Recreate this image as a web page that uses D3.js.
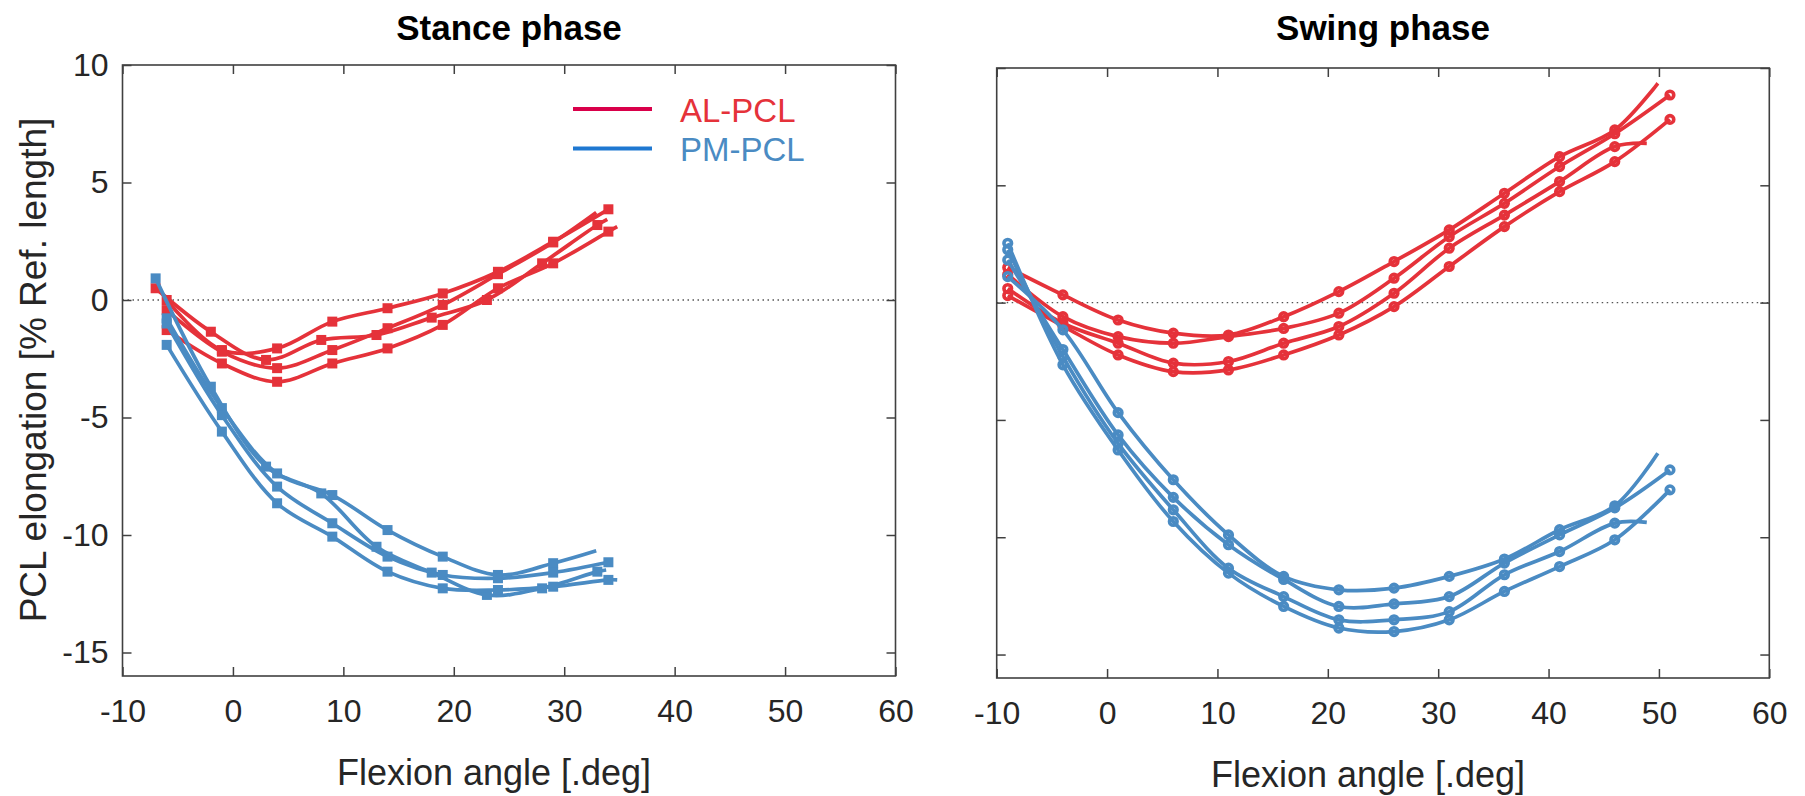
<!DOCTYPE html>
<html>
<head>
<meta charset="utf-8">
<script src="https://cdn.jsdelivr.net/npm/d3@7"></script>
<style>
  body { margin: 0; background: #fff; }
  svg { display: block; font-family: "Liberation Sans", Arial, Helvetica, sans-serif; }
</style>
</head>
<body>
<div id="chart"></div>
<script>
// flexion angles where the markers sit
var stanceAngles6 = [-6, -1, 4, 9, 14, 19, 24, 29, 34];
var stanceAngles7 = [-7, -2, 3, 8, 13, 18, 23, 28, 33];
var swingAngles = [-9, -4, 1, 6, 11, 16, 21, 26, 31, 36, 41, 46, 51];

// elongation values, one object per curve (tail = last point of the line, drawn without marker)
var stanceAL = [
  { x: stanceAngles6, y: [0.0, -2.13, -2.06, -0.92, -0.35, 0.28, 1.2, 2.48, 3.86], tail: null },
  { x: stanceAngles6, y: [-0.43, -2.2, -2.9, -2.13, -1.2, -0.21, 1.1, 2.45], tail: [32.9, 3.72] },
  { x: stanceAngles7, y: [0.5, -1.35, -2.55, -1.7, -1.49, -0.75, 0.0, 1.56, 3.19], tail: [33.9, 3.43] },
  { x: stanceAngles6, y: [-1.28, -2.7, -3.48, -2.7, -2.06, -1.06, 0.5, 1.56, 2.91], tail: [34.8, 3.12] }
];
var stancePM = [
  { x: stanceAngles6, y: [-0.78, -4.6, -7.38, -8.3, -9.79, -10.92, -11.7, -11.2], tail: [32.9, -10.67] },
  { x: stanceAngles6, y: [-1.0, -4.9, -7.94, -9.5, -10.92, -11.7, -11.84, -11.6, -11.16], tail: null },
  { x: stanceAngles7, y: [0.92, -3.69, -7.09, -8.23, -10.5, -11.6, -12.55, -12.27, -11.56], tail: [33.8, -11.49] },
  { x: stanceAngles6, y: [-1.91, -5.6, -8.65, -10.07, -11.56, -12.27, -12.34, -12.2, -11.91], tail: [34.8, -11.91] }
];
var swingAL = [
  { x: swingAngles, y: [1.5, 0.33, -0.74, -1.3, -1.38, -0.6, 0.47, 1.75, 3.1, 4.66, 6.22, 7.36], tail: [49.9, 9.35] },
  { x: swingAngles, y: [1.2, -0.6, -1.45, -1.73, -1.45, -1.1, -0.45, 1.04, 2.81, 4.23, 5.8, 7.2, 8.85], tail: null },
  { x: swingAngles, y: [0.6, -0.88, -1.73, -2.58, -2.51, -1.73, -1.02, 0.4, 2.32, 3.73, 5.16, 6.65], tail: [48.9, 6.79] },
  { x: swingAngles, y: [0.3, -1.0, -2.23, -2.94, -2.87, -2.23, -1.38, -0.17, 1.54, 3.24, 4.73, 6.01, 7.81], tail: null }
];
var swingPM = [
  { x: swingAngles, y: [1.11, -1.16, -4.69, -7.55, -9.9, -11.67, -12.24, -12.17, -11.67, -10.93, -9.68, -8.66], tail: [49.9, -6.42] },
  { x: swingAngles, y: [1.82, -2.0, -5.64, -8.3, -10.32, -11.8, -12.95, -12.84, -12.53, -11.1, -9.9, -8.75, -7.13], tail: null },
  { x: swingAngles, y: [2.25, -2.3, -6.0, -8.83, -11.32, -12.53, -13.52, -13.52, -13.17, -11.6, -10.61, -9.4], tail: [48.9, -9.37] },
  { x: swingAngles, y: [2.53, -2.65, -6.28, -9.33, -11.53, -12.95, -13.87, -14.02, -13.52, -12.31, -11.25, -10.11, -7.98], tail: null }
];

var xTicks = [-10, 0, 10, 20, 30, 40, 50, 60];
var yTicks = [-15, -10, -5, 0, 5, 10];
var legendNames = ["AL-PCL", "PM-PCL"];

var colAL = "#e5323a", colPM = "#4a8bc3";
var axisCol = "#404040";

var svg = d3.select("#chart").append("svg")
  .attr("width", 1805)
  .attr("height", 796);

var panels = [
  { title: "Stance phase", left: 122.5, right: 895.5, top: 65, bottom: 676, al: stanceAL, pm: stancePM, marker: "square", labels: true, xlab: 494 },
  { title: "Swing phase", left: 996.7, right: 1769.3, top: 68, bottom: 678, al: swingAL, pm: swingPM, marker: "circle", labels: false, xlab: 1368 }
];

panels.forEach(function(p){
  var x = d3.scaleLinear().domain([-10, 60]).range([p.left, p.right]);
  var y = d3.scaleLinear().domain([-16, 10]).range([p.bottom, p.top]);
  var g = svg.append("g");

  // dotted zero line
  g.append("line")
    .attr("x1", p.left).attr("x2", p.right)
    .attr("y1", y(0)).attr("y2", y(0))
    .style("stroke", "#555")
    .style("stroke-width", 1.3)
    .style("stroke-dasharray", "1.5,3.5");

  // axes with inward ticks
  var bottom = g.append("g").attr("transform", "translate(0," + p.bottom + ")")
    .call(d3.axisBottom(x).tickValues(xTicks).tickSizeInner(-9).tickSizeOuter(0).tickPadding(23).tickFormat(d3.format("d")));
  var top = g.append("g").attr("transform", "translate(0," + p.top + ")")
    .call(d3.axisTop(x).tickValues(xTicks).tickSizeInner(-9).tickSizeOuter(0).tickFormat(""));
  var left = g.append("g").attr("transform", "translate(" + p.left + ",0)")
    .call(d3.axisLeft(y).tickValues(yTicks).tickSizeInner(-9).tickSizeOuter(0).tickPadding(14)
      .tickFormat(p.labels ? d3.format("d") : ""));
  var right = g.append("g").attr("transform", "translate(" + p.right + ",0)")
    .call(d3.axisRight(y).tickValues(yTicks).tickSizeInner(-9).tickSizeOuter(0).tickFormat(""));

  [bottom, top, left, right].forEach(function(a){
    a.select(".domain").remove();
    a.selectAll(".tick line").style("stroke", axisCol).style("stroke-width", 1.5);
    a.selectAll(".tick text")
      .style("font-family", "Liberation Sans, Arial, sans-serif")
      .style("font-size", "32px")
      .style("fill", "#262626")
      .text(function(d){ return d3.select(this).text().replace("\u2212", "-"); });
  });

  g.append("rect")
    .attr("x", p.left).attr("y", p.top)
    .attr("width", p.right - p.left).attr("height", p.bottom - p.top)
    .style("fill", "none")
    .style("stroke", axisCol)
    .style("stroke-width", 1.6);

  var line = d3.line()
    .x(function(d){ return x(d[0]); })
    .y(function(d){ return y(d[1]); })
    .curve(d3.curveCatmullRom.alpha(0.5));

  function drawGroup(curves, col){
    curves.forEach(function(c){
      var pts = c.y.map(function(v, i){ return [c.x[i], v]; });
      var all = c.tail ? pts.concat([c.tail]) : pts;
      g.append("path")
        .datum(all)
        .attr("d", line)
        .style("fill", "none")
        .style("stroke", col)
        .style("stroke-width", 3.7)
        .style("stroke-linejoin", "round");
      if(p.marker == "square"){
        g.selectAll(null).data(pts).enter().append("rect")
          .attr("x", function(d){ return x(d[0]) - 5; })
          .attr("y", function(d){ return y(d[1]) - 5; })
          .attr("width", 10).attr("height", 10)
          .style("fill", col);
      } else {
        g.selectAll(null).data(pts).enter().append("circle")
          .attr("cx", function(d){ return x(d[0]); })
          .attr("cy", function(d){ return y(d[1]); })
          .attr("r", 3.8)
          .style("fill", "none")
          .style("stroke", col)
          .style("stroke-width", 3.6);
      }
    });
  }
  drawGroup(p.al, colAL);
  drawGroup(p.pm, colPM);

  // title and x label
  svg.append("text")
    .attr("x", (p.left + p.right) / 2).attr("y", 40)
    .attr("text-anchor", "middle")
    .style("font-size", "35px").style("font-weight", "bold").style("fill", "#000")
    .text(p.title);
  svg.append("text")
    .attr("x", p.xlab).attr("y", p.bottom + 109)
    .attr("text-anchor", "middle")
    .style("font-size", "36px").style("fill", "#262626")
    .text("Flexion angle [.deg]");
});

// y label
svg.append("text")
  .attr("transform", "translate(46,370) rotate(-90)")
  .attr("text-anchor", "middle")
  .style("font-size", "37px").style("fill", "#262626")
  .text("PCL elongation [% Ref. length]");

// legend
var leg = svg.append("g");
var legLine = ["#d9004a", "#1f78d1"];
var legText = [colAL, colPM];
legendNames.forEach(function(n, i){
  leg.append("line")
    .attr("x1", 573).attr("x2", 652)
    .attr("y1", 109 + i * 39.5).attr("y2", 109 + i * 39.5)
    .style("stroke", legLine[i]).style("stroke-width", 4);
  leg.append("text")
    .attr("x", 680).attr("y", 121.7 + i * 39)
    .style("font-size", "33px").style("fill", legText[i])
    .text(n);
});
</script>
</body>
</html>
